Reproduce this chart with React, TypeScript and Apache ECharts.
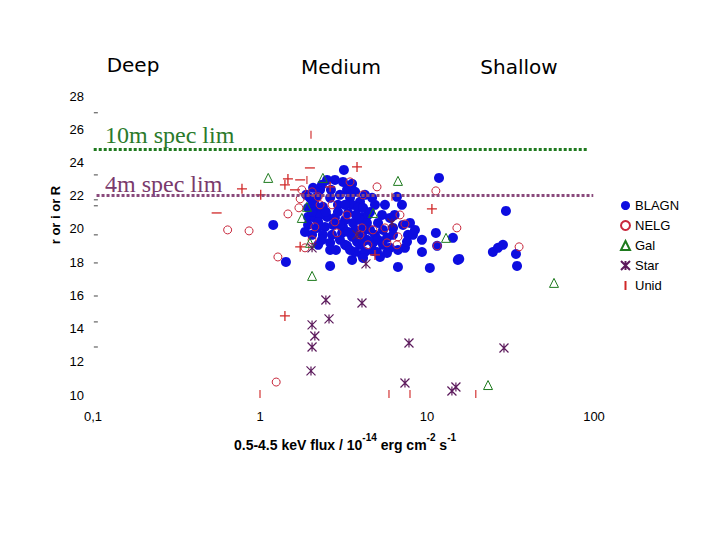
import React, { useEffect, useRef } from 'react';
import * as echarts from 'echarts';

// Survey labels across the top
const surveyTitles = ['Deep', 'Medium', 'Shallow'];
const legendNames = ['BLAGN', 'NELG', 'Gal', 'Star', 'Unid'];

// [flux (1e-14 erg cm^-2 s^-1), magnitude]
const blagn: number[][] = [
  [1.20, 20.24], [1.43, 18.01], [2.63, 17.77], [3.18, 23.55], [2.52, 22.95], [2.81, 22.95], [3.14, 22.83], [3.56, 22.71],
  [2.08, 22.47], [2.29, 22.35], [3.32, 22.35], [3.71, 22.23], [1.99, 21.87], [2.19, 21.93], [2.63, 21.87], [3.46, 21.87],
  [3.97, 21.63], [1.94, 21.27], [2.19, 21.27], [2.38, 21.33], [2.93, 21.45], [3.56, 21.45], [3.86, 21.27], [1.94, 20.72],
  [2.13, 20.66], [2.52, 20.72], [2.81, 20.66], [3.37, 20.96], [4.08, 20.72], [4.43, 20.84], [1.94, 20.24], [2.19, 20.06],
  [2.45, 20.12], [2.74, 20.24], [3.14, 20.12], [3.61, 20.36], [4.14, 20.06], [2.05, 19.64], [2.38, 19.64], [2.70, 19.64],
  [3.10, 19.76], [3.56, 19.52], [4.08, 19.64], [2.35, 19.34], [2.63, 19.16], [3.23, 19.04], [3.81, 19.22], [4.37, 19.34],
  [2.63, 18.73], [3.32, 18.98], [3.97, 19.04], [3.56, 18.13], [3.71, 18.61], [4.08, 18.43],
  [7.08, 21.45], [4.14, 21.27], [4.56, 21.02], [5.38, 20.84], [6.0, 20.66], [3.97, 20.54], [4.37, 20.36], [5.09, 20.36],
  [5.45, 19.94], [6.26, 20.06], [4.08, 19.76], [4.88, 19.64], [5.76, 19.46], [6.26, 19.64], [4.14, 19.22], [4.75, 19.16],
  [5.45, 19.04], [6.0, 18.86], [4.25, 18.61], [5.02, 18.61], [5.76, 18.55], [4.14, 18.25], [5.23, 18.31], [7.18, 20.24],
  [7.91, 20.36], [7.70, 19.64], [8.24, 19.64], [9.33, 19.34], [11.3, 19.76], [9.33, 18.61], [10.4, 17.65], [6.70, 17.71],
  [7.38, 18.86], [7.59, 19.22], [11.8, 23.07], [4.88, 21.45], [4.69, 21.87], [4.75, 18.67], [15.3, 18.13], [29.7, 21.08],
  [14.3, 19.46], [15.6, 18.19], [24.8, 18.61], [26.6, 18.86], [28.5, 19.04], [34.1, 18.49], [34.6, 17.77], [11.5, 18.98],
  [6.61, 21.93], [2.13, 21.45], [2.29, 20.84], [2.93, 21.02], [3.23, 20.54], [3.71, 19.94], [3.01, 19.34], [3.46, 18.73],
  [4.56, 19.94], [5.09, 19.34],
  [1.89, 22.05], [2.05, 21.02], [2.23, 20.42], [2.48, 21.02], [2.66, 22.35], [3.01, 22.05], [3.01, 20.24], [1.86, 19.82],
  [2.23, 19.04], [3.23, 21.45], [2.85, 18.73], [2.05, 21.75], [2.35, 22.65], [3.37, 19.82], [3.76, 20.84], [4.25, 22.05],
  [5.6, 21.45], [6.4, 20.84], [8.47, 19.94], [6.70, 18.73],
];

const nelg: number[][] = [
  [0.64, 19.94], [0.86, 19.88], [1.28, 18.31], [1.25, 10.78], [1.47, 20.90], [1.71, 21.27], [1.74, 21.81], [1.78, 22.35],
  [3.46, 22.83], [5.02, 22.53], [4.14, 22.05], [11.3, 22.29], [6.89, 20.84], [7.38, 20.30], [5.6, 20.06], [11.5, 18.98],
  [15.1, 20.06], [6.70, 19.52], [1.86, 18.86], [2.05, 19.34], [3.32, 20.84], [2.81, 20.42], [2.13, 20.12], [4.08, 20.06],
  [4.75, 19.94], [5.76, 19.16], [6.61, 19.04], [2.89, 19.76], [2.29, 21.45], [2.70, 21.45], [2.05, 22.23], [2.23, 21.93],
  [3.97, 19.64], [4.43, 19.04], [35.6, 18.92],
];

const gal: number[][] = [
  [1.12, 23.07], [6.70, 22.89], [2.05, 17.17], [13.0, 19.46], [57.6, 16.75], [23.2, 10.60], [4.75, 20.96], [2.38, 23.07],
  [1.78, 20.66], [1.91, 21.33], [1.99, 19.16],
];

const star: number[][] = [
  [2.48, 15.72], [4.08, 15.54], [2.05, 14.22], [2.59, 14.58], [2.13, 13.55], [2.05, 12.89], [2.02, 11.45], [7.80, 13.13],
  [28.9, 12.83], [7.38, 10.72], [14.1, 10.24], [14.9, 10.48], [2.05, 18.86], [4.31, 17.89], [6.17, 20.36], [3.81, 19.64],
];

const unid: number[][] = [
  [2.02, 25.66], [1.91, 22.95], [6.17, 21.93], [1.0, 10.06], [5.92, 10.06], [7.91, 10.06], [19.6, 10.06],
];

const plusMarks: number[][] = [
  [0.78, 22.41], [1.01, 22.05], [1.47, 23.01], [1.41, 22.65], [3.81, 23.73], [10.7, 21.20], [1.74, 18.92], [4.88, 18.43],
  [1.41, 14.76], [2.63, 22.53],
];

const minusMarks: number[][] = [
  [0.55, 20.96], [1.99, 23.67], [1.74, 22.95], [1.62, 22.35],
];

const edgeFlux = 0.104;
const edgeMags = [26.99, 23.25, 21.75, 21.39, 19.64, 17.95, 15.96, 14.40, 12.89];

// spectroscopic limits
const specLim10m = 24.82;
const specLim4m = 22.05;

const ASTERISK = 'path://M0,0L10,10M10,0L0,10M5,0L5,10';
const PLUS = 'path://M5,0L5,10M0,5L10,5';
const MINUS = 'path://M0,0M10,10M0,5L10,5';
const BAR = 'path://M0,0M6,10M3,0L3,10';

const SANS = '"Liberation Sans", Arial, sans-serif';
const SERIF = '"Liberation Serif", "Times New Roman", serif';

export default function App() {
  const ref = useRef<HTMLDivElement>(null);

  useEffect(() => {
    if (!ref.current) return;
    const chart = echarts.init(ref.current, undefined, { renderer: 'svg' });
    const clear = 'rgba(0,0,0,0)';
    const txt = (text: string, x: number, y: number, font: string, fill: string, align = 'center') => ({
      type: 'text',
      x,
      y,
      silent: true,
      style: {
        text,
        font,
        fill,
        align,
        verticalAlign: 'middle',
        textAlign: align,
        textVerticalAlign: 'middle',
      },
    });
    const titleX = [133, 341, 519];
    const titleY = [65, 67, 67];

    const option: any = {
      animation: false,
      backgroundColor: '#ffffff',
      grid: { left: 93, right: 126, top: 96, bottom: 145 },
      xAxis: {
        type: 'log',
        logBase: 10,
        min: 0.1,
        max: 100,
        axisLine: { show: false },
        axisTick: { show: false },
        splitLine: { show: false },
        axisLabel: {
          margin: 15,
          fontSize: 13,
          fontFamily: SANS,
          color: '#000',
          formatter: (v: number) => (v < 0.5 ? '0,1' : String(Math.round(v))),
        },
      },
      yAxis: {
        type: 'value',
        min: 10,
        max: 28,
        interval: 2,
        axisLine: { show: false },
        axisTick: { show: false },
        splitLine: { show: false },
        axisLabel: { margin: 9, fontSize: 13, fontFamily: SANS, color: '#000' },
      },
      legend: {
        data: legendNames,
        orient: 'vertical',
        left: 615,
        top: 194,
        itemWidth: 9,
        itemHeight: 9,
        itemGap: 7,
        textStyle: { fontSize: 13, fontFamily: SANS, color: '#000' },
        selectedMode: false,
      },
      graphic: [
        ...surveyTitles.map((t, i) => txt(t, titleX[i], titleY[i], '20px "DejaVu Sans", sans-serif', '#000')),
        txt('10m spec lim', 105, 135, '24px ' + SERIF, '#2a7a2a', 'left'),
        txt('4m spec lim', 105, 184, '24px ' + SERIF, '#7a3a6c', 'left'),
        {
          type: 'text',
          x: 55,
          y: 215,
          rotation: Math.PI / 2,
          silent: true,
          style: {
            text: 'r or i or R',
            font: 'bold 13px ' + SANS,
            fill: '#000',
            align: 'center',
            verticalAlign: 'middle',
            textAlign: 'center',
            textVerticalAlign: 'middle',
          },
        },
        {
          type: 'text',
          x: 345,
          y: 442,
          silent: true,
          style: {
            text: '{b|0.5-4.5 keV flux / 10}{s|-14}{b| erg cm}{s|-2}{b| s}{s|-1}',
            align: 'center',
            verticalAlign: 'middle',
            textAlign: 'center',
            textVerticalAlign: 'middle',
            fill: '#000',
            rich: {
              b: { fontFamily: SANS, fontWeight: 'bold', fontSize: 14, lineHeight: 19, verticalAlign: 'bottom', fill: '#000', color: '#000' },
              s: { fontFamily: SANS, fontWeight: 'bold', fontSize: 10, lineHeight: 11, verticalAlign: 'top', fill: '#000', color: '#000' },
            },
          },
        },
      ],
      series: [
        {
          type: 'scatter',
          name: 'BLAGN',
          data: blagn,
          symbol: 'circle',
          symbolSize: 10,
          itemStyle: { color: '#0d0de0', opacity: 1 },
          markLine: {
            silent: true,
            symbol: ['none', 'none'],
            label: { show: false },
            data: [
              [
                { coord: [0.101, specLim10m], lineStyle: { color: '#1f7a1f', width: 3, type: [3, 2] } },
                { coord: [92, specLim10m] },
              ],
              [
                { coord: [0.105, specLim4m], lineStyle: { color: '#8a4a7c', width: 3, type: [3, 2] } },
                { coord: [99, specLim4m] },
              ],
            ],
          },
        },
        {
          type: 'scatter',
          name: 'NELG',
          data: nelg,
          symbol: 'circle',
          symbolSize: 8,
          itemStyle: { color: clear, borderColor: '#c8283c', borderWidth: 1, opacity: 1 },
        },
        {
          type: 'scatter',
          name: 'Gal',
          data: gal,
          symbol: 'triangle',
          symbolSize: 9,
          itemStyle: { color: clear, borderColor: '#1e7a1e', borderWidth: 1, opacity: 1 },
        },
        {
          type: 'scatter',
          name: 'Star',
          data: star,
          symbol: ASTERISK,
          symbolSize: 9,
          itemStyle: { color: clear, borderColor: '#5c1a5c', borderWidth: 1.2, opacity: 1 },
        },
        {
          type: 'scatter',
          name: 'Unid',
          data: unid,
          symbol: BAR,
          symbolSize: [6, 8],
          itemStyle: { color: clear, borderColor: '#d02828', borderWidth: 1.3, opacity: 1 },
        },
        {
          type: 'scatter',
          name: 'plus',
          data: plusMarks,
          symbol: PLUS,
          symbolSize: 10,
          itemStyle: { color: clear, borderColor: '#d02828', borderWidth: 1.3, opacity: 1 },
        },
        {
          type: 'scatter',
          name: 'minus',
          data: minusMarks,
          symbol: MINUS,
          symbolSize: 10,
          itemStyle: { color: clear, borderColor: '#d02828', borderWidth: 1.3, opacity: 1 },
        },
        {
          type: 'scatter',
          name: 'edge',
          data: edgeMags.map((m) => [edgeFlux, m]),
          symbol: 'rect',
          symbolSize: [4, 1],
          itemStyle: { color: '#444', opacity: 1 },
        },
      ],
    };
    chart.setOption(option);
    return () => chart.dispose();
  }, []);

  return (
    <div
      ref={ref}
      style={{ position: 'fixed', left: 0, top: 0, width: 720, height: 540, background: '#fff' }}
    />
  );
}
